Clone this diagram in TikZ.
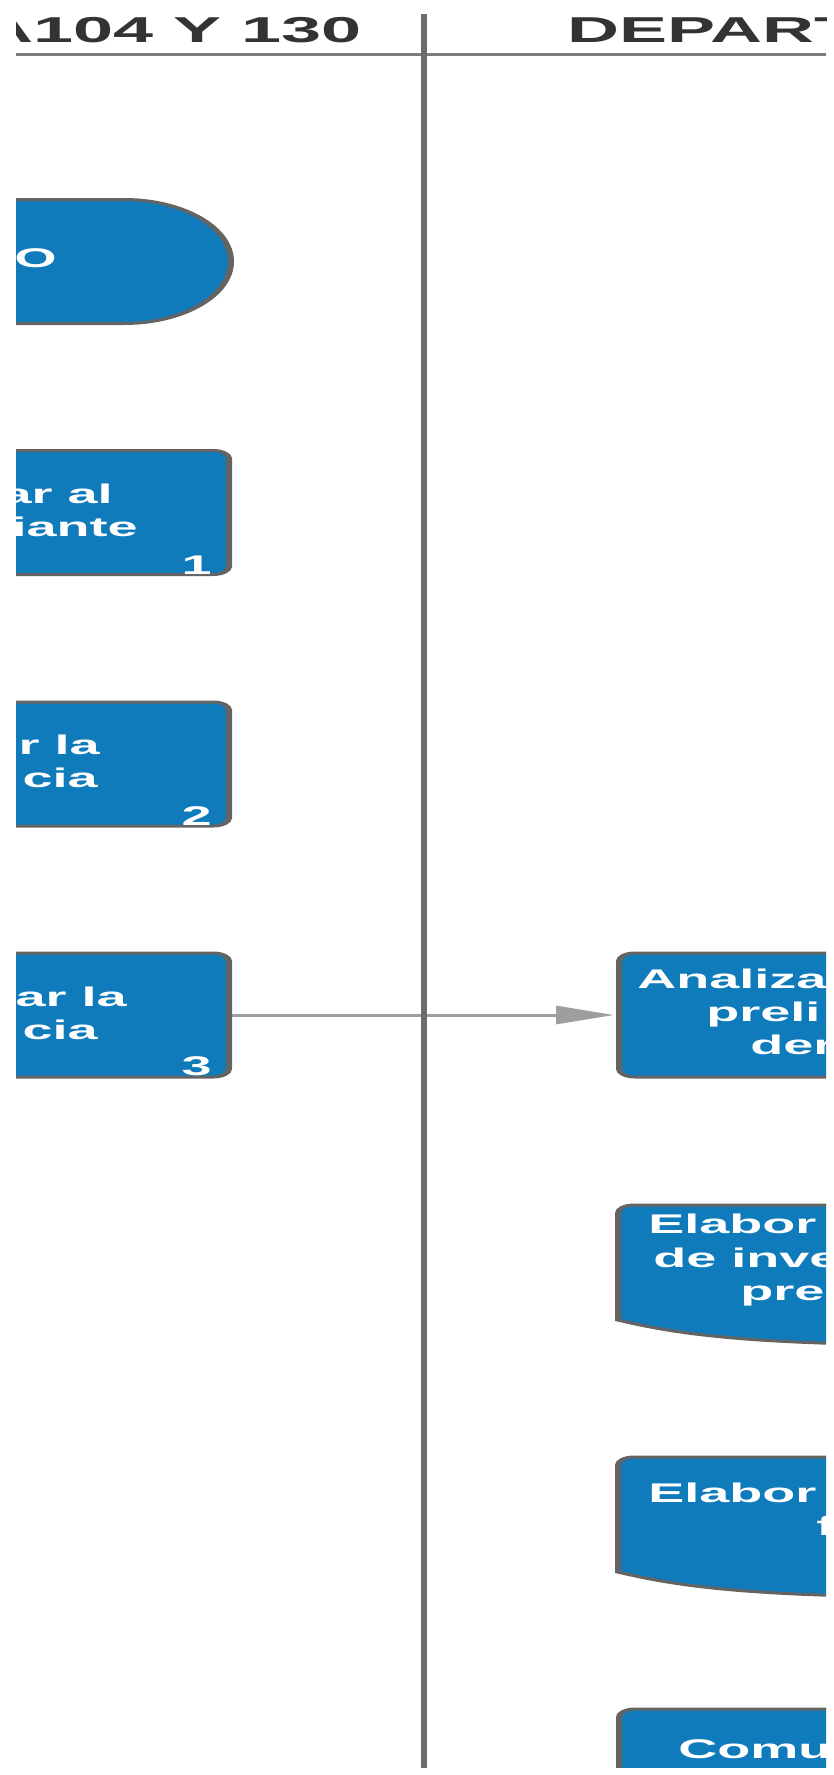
\documentclass[tikz,border=0pt]{standalone}
\usepackage{fontspec}
\setmainfont{Liberation Sans}
\usetikzlibrary{arrows.meta}
\definecolor{laneblue}{RGB}{15,123,187}
\definecolor{edgegray}{RGB}{100,100,100}
\definecolor{linkgray}{RGB}{158,158,158}
\definecolor{headink}{RGB}{51,51,51}
\definecolor{rulegray}{RGB}{125,125,125}
\definecolor{lanegray}{RGB}{108,108,108}

\begin{document}
\begin{tikzpicture}[x=1pt,y=-1pt,
  box/.style={draw=edgegray,fill=laneblue,line width=3pt,rounded corners=8pt,
    minimum width=210pt,minimum height=124pt,inner sep=0pt},
  docshape/.style={draw=edgegray,fill=laneblue,line width=3pt},
  txt/.style={text=white,font=\bfseries\fontsize{27}{33}\selectfont,inner sep=0pt},
  num/.style={text=white,font=\bfseries\fontsize{27}{30}\selectfont,inner sep=0pt},
  head/.style={text=headink,font=\bfseries\fontsize{36}{40}\selectfont,inner sep=0pt},
  conn/.style={draw=linkgray,line width=3pt,shorten >=1pt,
    -{Triangle[length=29pt,width=18pt]}}
]
\useasboundingbox (0,0) rectangle (833,1775);
\begin{scope}[transform canvas={xscale=2}]
\clip (8,14) rectangle (413,1767);

% lane headers
\node[head,anchor=base east] (h1) at (181,42) {A104 Y 130};
\node[head,anchor=base west] (h2) at (283.5,42) {DEPART};
\draw[rulegray,line width=3pt] (0,54) -- (420,54);

% start terminal
\draw[docshape] (-150,199.5) -- (62,199.5)
  arc[start angle=-90,end angle=90,x radius=53.5,y radius=62] -- (-150,323.5) -- cycle;
\node[txt,anchor=base east] (t0) at (28.5,267) {O};

% left lane steps
\node[box] (b1) at (9.5,512.5) {};
\node[txt,anchor=base east] (b1a) at (56.5,503) {ar al};
\node[txt,anchor=base east] (b1b) at (69,536) {iante};
\node[num,anchor=base east] (b1n) at (106,574) {1};

\node[box] (b2) at (9.5,764) {};
\node[txt,anchor=base east] (b2a) at (50,754) {r la};
\node[txt,anchor=base east] (b2b) at (49,787) {cia};
\node[num,anchor=base east] (b2n) at (106,825) {2};

\node[box] (b3) at (9.5,1015) {};
\node[txt,anchor=base east] (b3a) at (63.5,1006) {ar la};
\node[txt,anchor=base east] (b3b) at (49,1039) {cia};
\node[num,anchor=base east] (b3n) at (106,1075) {3};

% right lane steps
\node[box] (r1) at (414.5,1015) {};
\node[txt,anchor=base west] (r1a) at (318.5,988) {Analiza};
\node[txt,anchor=base west] (r1b) at (353,1021) {preli};
\node[txt,anchor=base west] (r1c) at (375,1054) {der};

\draw[docshape] (520,1205) [rounded corners=8pt] -- (309,1205) [sharp corners] -- (309,1320)
  .. controls (345,1337) and (385,1347) .. (520,1345) -- cycle;
\node[txt,anchor=base west] (r2a) at (324,1233) {Elabor};
\node[txt,anchor=base west] (r2b) at (326.5,1267) {de inve};
\node[txt,anchor=base west] (r2c) at (370,1300) {pre};

\draw[docshape] (520,1457) [rounded corners=8pt] -- (309,1457) [sharp corners] -- (309,1572)
  .. controls (345,1589) and (385,1599) .. (520,1597) -- cycle;
\node[txt,anchor=base west] (r3a) at (324,1502) {Elabor};
\node[txt,anchor=base west] (r3b) at (408,1535) {f};

\node[box] (r4) at (414.5,1771) {};
\node[txt,anchor=base west] (r4a) at (339,1758) {Comu};

% flow between lanes
\draw[conn] (b3.east) -- (r1.west);

% lane divider
\draw[lanegray,line width=2.8pt] (212,0) -- (212,1780);
\end{scope}
\end{tikzpicture}
\end{document}
